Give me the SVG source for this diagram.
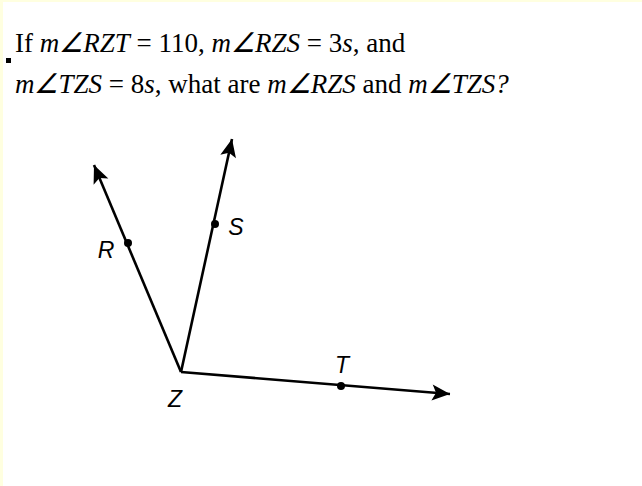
<svg xmlns="http://www.w3.org/2000/svg" width="642" height="486" viewBox="0 0 642 486">
<style>
.q{font-family:"Liberation Serif","Times New Roman",serif;font-size:27px;fill:#000}
.i{font-style:italic}
.lbl{font-family:"Liberation Sans",Arial,sans-serif;font-size:23px;font-style:italic;fill:#000;text-anchor:middle}
.ray{stroke:#000;stroke-width:2.6;fill:none;marker-end:url(#ah)}
</style>
<defs>
<marker id="ah" markerUnits="userSpaceOnUse" markerWidth="24" markerHeight="20" refX="20" refY="8" orient="auto" viewBox="0 0 24 16">
<path d="M20,8 L2,0 L6,8 L2,16 Z" fill="#000"/>
</marker>
</defs>
<rect x="0" y="0" width="642" height="486" fill="#ffffe0"/>
<rect x="3" y="2" width="639" height="484" fill="#ffffff"/>
<rect x="6" y="58" width="5" height="5" fill="#000"/>
<g id="question">
<text class="q" x="15" y="52">If <tspan class="i">m∠RZT</tspan> = 110, <tspan class="i">m∠RZS</tspan> = 3<tspan class="i">s</tspan>, and</text>
<text class="q" x="15" y="93"><tspan class="i">m∠TZS</tspan> = 8<tspan class="i">s</tspan>, what are <tspan class="i">m∠RZS</tspan> and <tspan class="i">m∠TZS?</tspan></text>
</g>
<g id="connectors">
<line class="ray" x1="181" y1="372" x2="94" y2="165"/>
<line class="ray" x1="181" y1="372" x2="232" y2="139"/>
<line class="ray" x1="181" y1="372" x2="450" y2="394"/>
</g>
<g id="Z"><text class="lbl" x="175" y="407">Z</text></g>
<g id="R"><circle cx="128" cy="243" r="4" fill="#000"/><text class="lbl" x="106" y="258">R</text></g>
<g id="S"><circle cx="215" cy="224" r="4" fill="#000"/><text class="lbl" x="236" y="235">S</text></g>
<g id="T"><circle cx="341" cy="386" r="4" fill="#000"/><text class="lbl" x="342" y="373">T</text></g>
</svg>
